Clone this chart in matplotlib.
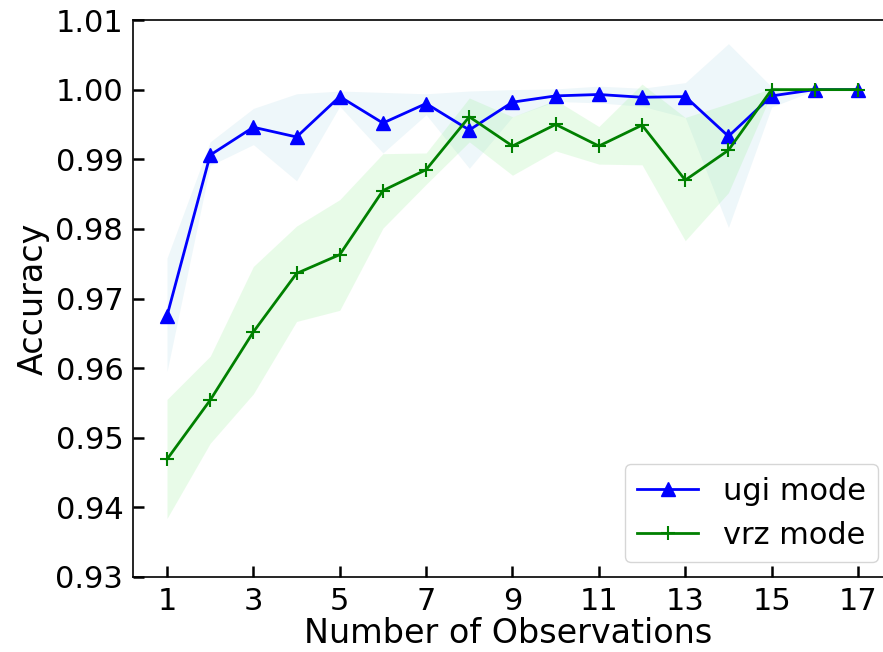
import numpy as np
import matplotlib
matplotlib.use('Agg')
import matplotlib.pyplot as plt

# ── Data ─────────────────────────────────────────────────────────────
obs = np.arange(1, 18)

ugi_mean = [0.9675, 0.9906, 0.9946, 0.9932, 0.9990, 0.9952, 0.9980, 0.9942, 0.9982,
            0.9991, 0.9993, 0.9989, 0.9990, 0.9933, 0.9991, 1.0000, 1.0000]
ugi_upper = [0.9758, 0.9925, 0.9973, 0.9994, 0.9998, 0.9996, 0.9994, 0.9998, 1.0000,
             1.0001, 1.0005, 1.0002, 1.0010, 1.0066, 1.0004, 1.0001, 1.0000]
ugi_lower = [0.9595, 0.9891, 0.9921, 0.9869, 0.9976, 0.9909, 0.9964, 0.9887, 0.9961,
             0.9983, 0.9981, 0.9976, 0.9960, 0.9802, 0.9975, 0.9999, 1.0000]

vrz_mean = [0.9469, 0.9554, 0.9652, 0.9736, 0.9763, 0.9855, 0.9885, 0.9961, 0.9919,
            0.9950, 0.9919, 0.9949, 0.9870, 0.9913, 1.0000, 1.0000, 1.0000]
vrz_upper = [0.9555, 0.9617, 0.9746, 0.9804, 0.9842, 0.9908, 0.9909, 0.9988, 0.9961,
             0.9985, 0.9947, 1.0008, 0.9960, 0.9980, 1.0002, 1.0000, 1.0000]
vrz_lower = [0.9384, 0.9492, 0.9563, 0.9667, 0.9683, 0.9801, 0.9864, 0.9925, 0.9877,
             0.9912, 0.9893, 0.9892, 0.9783, 0.9852, 0.9995, 1.0000, 1.0000]

xticks = [1, 3, 5, 7, 9, 11, 13, 15, 17]
yticks = [0.93, 0.94, 0.95, 0.96, 0.97, 0.98, 0.99, 1.00, 1.01]

plt.rcParams['font.family'] = 'DejaVu Sans'

fig = plt.figure(figsize=(8.83, 6.52), dpi=100)
ax = fig.add_axes([133 / 883, 1 - 577 / 652, 1 - 133 / 883, (577 - 20) / 652])

ax.fill_between(obs, ugi_lower, ugi_upper, color='lightblue', alpha=0.2, linewidth=0)
ax.fill_between(obs, vrz_lower, vrz_upper, color='lightgreen', alpha=0.2, linewidth=0)
ax.plot(obs, ugi_mean, color='blue', marker='^', markersize=10, linewidth=2, label='ugi mode')
ax.plot(obs, vrz_mean, color='green', marker='+', markersize=10, markeredgewidth=1.5,
        linewidth=2, label='vrz mode')

ax.set_xlim(1 - 34 / 43.2, 17 + 25 / 43.2)
ax.set_ylim(0.93, 1.01)
ax.set_xticks(xticks)
ax.set_yticks(yticks)
ax.set_yticklabels([f"{v:.2f}" for v in yticks])
ax.tick_params(direction='in', length=8, width=1.8, labelsize=22, pad=7)
ax.spines['right'].set_visible(False)
for s in ['left', 'bottom', 'top']:
    ax.spines[s].set_linewidth(1.2)

ax.set_xlabel("Number of Observations", fontsize=24, labelpad=1)
ax.set_ylabel("Accuracy", fontsize=24, labelpad=4)
ax.legend(loc='lower right', fontsize=22, borderaxespad=0,
          bbox_to_anchor=(878 / 883, 1 - 562 / 652), bbox_transform=fig.transFigure)

plt.savefig("out.png", dpi=100)
